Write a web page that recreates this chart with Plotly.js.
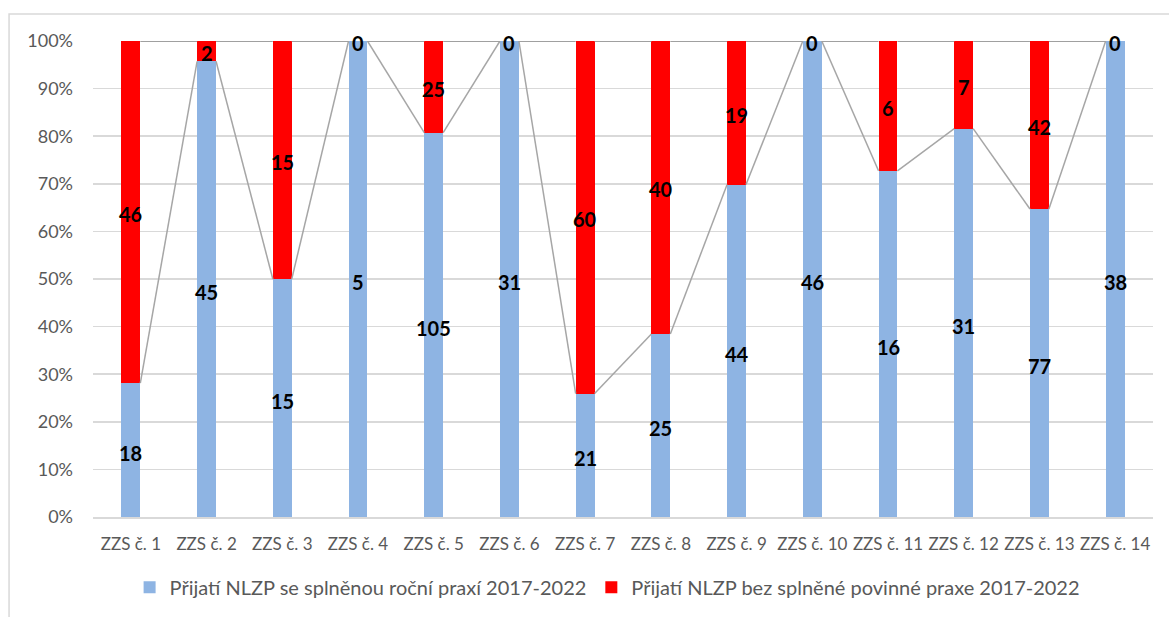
<!DOCTYPE html>
<html><head><meta charset="utf-8">
<script src="https://cdn.plot.ly/plotly-3.0.1.min.js"></script>
<style>html,body{margin:0;padding:0;background:#fff}#chart{width:1169px;height:617px}</style>
</head><body><div id="chart"></div>
<script>
const categories = ["ZZS č. 1","ZZS č. 2","ZZS č. 3","ZZS č. 4","ZZS č. 5","ZZS č. 6","ZZS č. 7","ZZS č. 8","ZZS č. 9","ZZS č. 10","ZZS č. 11","ZZS č. 12","ZZS č. 13","ZZS č. 14"];
const withPractice = [18,45,15,5,105,31,21,25,44,46,16,31,77,38];
const withoutPractice = [46,2,15,0,25,0,60,40,19,0,6,7,42,0];
const seriesNames = ["Přijatí NLZP se splněnou roční praxí 2017-2022","Přijatí NLZP bez splněné povinné praxe 2017-2022"];

const idx = categories.map((_, i) => i);
const totals = withPractice.map((v, i) => v + withoutPractice[i]);
const pBlue = withPractice.map((v, i) => v / totals[i]);
const pRed = withoutPractice.map((v, i) => v / totals[i]);
const BW = 0.25;

// series lines
const slx = [], sly = [], slx2 = [], sly2 = [];
for (let i = 0; i < idx.length - 1; i++) {
  slx.push(i + BW/2, i + 1 - BW/2, null);
  sly.push(pBlue[i], pBlue[i+1], null);
  slx2.push(i + BW/2, i + 1 - BW/2, null);
  sly2.push(pBlue[i] + pRed[i], pBlue[i+1] + pRed[i+1], null);
}

const labelFont = {family: "Lato, 'Liberation Sans', sans-serif", size: 20, color: '#000', weight: 700};
const traces = [
  {type:'bar', x: idx, y: pBlue, width: BW, name: seriesNames[0], marker:{color:'#8eb4e3'}, hoverinfo:'skip'},
  {type:'bar', x: idx, y: pRed, width: BW, name: seriesNames[1], marker:{color:'#ff0000'}, hoverinfo:'skip'},
  {type:'scatter', mode:'lines', x: slx, y: sly, line:{color:'#a6a6a6', width:1.5}, showlegend:false, hoverinfo:'skip'},
  {type:'scatter', mode:'lines', x: slx2, y: sly2, line:{color:'#a0a0a0', width:2}, showlegend:false, hoverinfo:'skip'}
];

const annotations = [];
idx.forEach(i => {
  annotations.push({x: i, y: pBlue[i]/2, xref:'x', yref:'y', text: String(withPractice[i]), showarrow:false, font: labelFont, yshift:-3});
  annotations.push({x: i, y: pBlue[i] + pRed[i]/2, xref:'x', yref:'y', text: String(withoutPractice[i]), showarrow:false, font: labelFont, yshift:-2});
});

const layout = {
  width:1169, height:617,
  margin:{l:93, r:16, t:41, b:99},
  paper_bgcolor:'#fff', plot_bgcolor:'#fff',
  barmode:'stack',
  font:{family:"Lato, 'Liberation Sans', sans-serif", color:'#595959'},
  xaxis:{range:[-0.5,13.5], tickvals: idx, ticktext: categories, tickfont:{size:17, color:'#595959'}, showgrid:false, zeroline:false, showline:true, linecolor:'#d9d9d9', linewidth:1.5, ticks:'', ticklen:0, ticklabelstandoff:11, fixedrange:true},
  yaxis:{range:[0,1], tickformat:'.0%', dtick:0.1, tick0:0, tickfont:{size:18, color:'#595959'}, gridcolor:'#d9d9d9', gridwidth:1.5, zeroline:false, showline:false, ticks:'', ticklabelstandoff:19, fixedrange:true},
  legend:{orientation:'h', x:0.485, xanchor:'center', y:-0.145, yanchor:'middle', font:{size:20, color:'#595959'}, traceorder:'normal', itemwidth:30},
  annotations: annotations,
  shapes:[{type:'rect', xref:'paper', yref:'paper', x0:-0.0792, x1:1.2, y0:-0.4, y1:1.0566, line:{color:'#d9d9d9', width:1.5}, layer:'below'}],
  showlegend:true
};
Plotly.newPlot('chart', traces, layout, {displayModeBar:false, staticPlot:true});
</script></body></html>
